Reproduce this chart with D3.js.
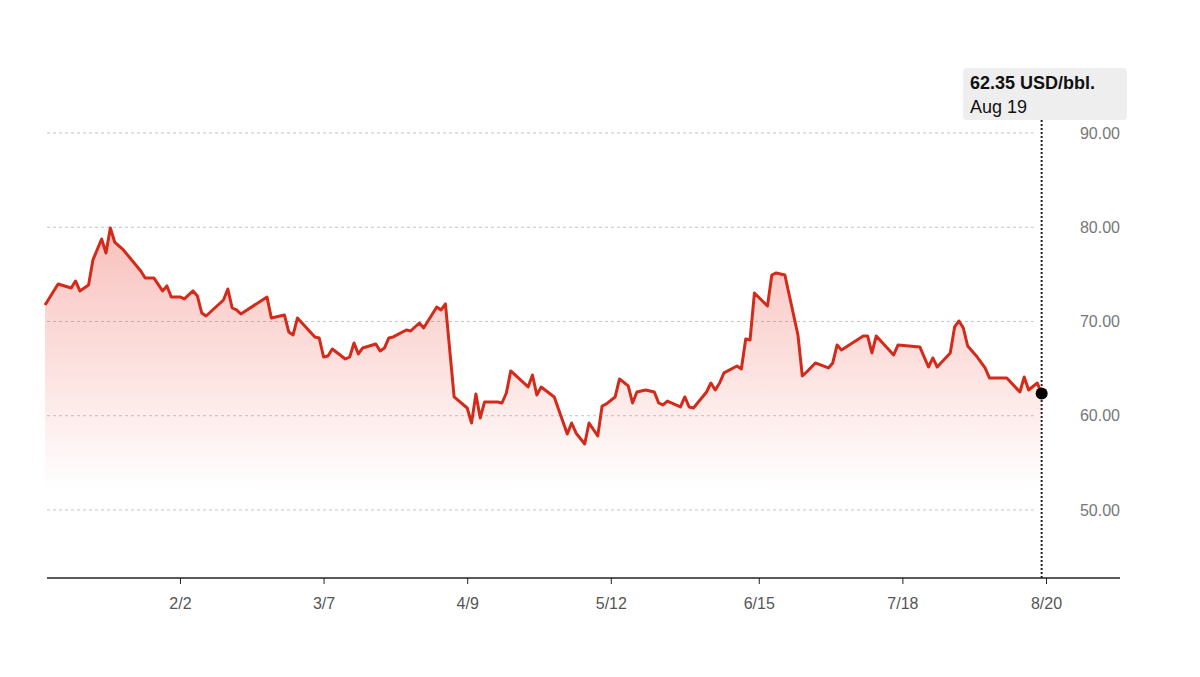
<!DOCTYPE html>
<html>
<head>
<meta charset="utf-8">
<script src="https://cdn.jsdelivr.net/npm/d3@7"></script>
<style>
  body { margin: 0; background: #fff; }
  svg { font-family: "Liberation Sans", Arial, sans-serif; }
</style>
</head>
<body>
<div class="chart"></div>
<script>
// day offsets from Jan 1 2025, and price in USD/bbl
var days = [1,4,7,8,9,11,12,14,15,16,17,19,23,24,26,28,29,30,32,33,35,36,37,38,42,43,44,45,46,52,53,56,57,58,59,63,64,65,66,67,70,71,72,73,74,77,78,79,80,81,84,85,87,88,91,92,93,95,98,99,100,101,102,105,106,107,108,112,113,114,115,118,121,122,123,125,126,128,129,130,132,133,135,136,137,139,141,142,143,144,147,148,149,150,153,154,155,156,157,160,161,162,163,164,167,168,169,171,174,175,176,178,181,182,183,184,189,190,191,192,196,197,202,204,205,206,209,210,211,212,213,215,217,218,222,225,226,227,229,230];
var prices = [71.75,73.98,73.55,74.30,73.24,73.87,76.53,78.75,77.27,79.92,78.43,77.59,75.36,74.62,74.62,73.24,73.77,72.60,72.60,72.39,73.24,72.71,70.90,70.58,72.28,73.45,71.43,71.22,70.80,72.60,70.37,70.69,68.89,68.57,70.37,68.36,68.25,66.23,66.34,67.08,66.02,66.23,67.72,66.55,67.19,67.61,66.87,67.19,68.25,68.36,69.10,68.99,69.84,69.31,71.54,71.22,71.86,61.99,60.82,59.23,62.31,59.76,61.46,61.46,61.35,62.41,64.75,63.05,64.32,62.20,63.05,61.99,58.06,59.23,58.17,57.00,59.23,57.85,61.03,61.25,61.99,63.90,63.16,61.35,62.52,62.73,62.52,61.35,61.14,61.56,60.93,61.99,60.93,60.82,62.52,63.47,62.73,63.47,64.54,65.28,64.96,68.14,68.04,73.02,71.64,74.93,75.15,74.93,68.57,64.22,64.64,65.60,65.07,65.60,67.51,66.98,68.46,68.46,66.66,68.46,66.45,67.51,67.30,65.17,66.13,65.17,66.66,69.42,70.05,69.31,67.40,66.34,65.07,64.01,64.01,62.52,64.11,62.73,63.47,62.35];
var yTicks = [50, 60, 70, 80, 90];
var xTickDates = ["2025-02-02","2025-03-07","2025-04-09","2025-05-12","2025-06-15","2025-07-18","2025-08-20"];
var unitLabel = "USD/bbl.";

var svgWidth = 1200, svgHeight = 677;
var plotLeft = 47, plotRight = 1120, plotBottom = 578;

var jan1 = new Date(2025, 0, 1);
var data = days.map(function(d, i) {
  return { date: d3.timeDay.offset(jan1, d), value: prices[i] };
});
var last = data[data.length - 1];

var svg = d3.select(".chart").append("svg")
  .attr("width", svgWidth).attr("height", svgHeight);

var x = d3.scaleTime()
  .domain([jan1, new Date(2025, 7, 20)])
  .range([40.7, 1046]);
var y = d3.scaleLinear().domain([42.78, 90]).range([plotBottom, 133]);

var grad = svg.append("defs").append("linearGradient")
  .attr("id", "fillGrad").attr("x1", 0).attr("x2", 0)
  .attr("gradientUnits", "userSpaceOnUse")
  .attr("y1", y(80)).attr("y2", plotBottom);
grad.append("stop").attr("offset", "0%").attr("stop-color", "#ee5a4f").attr("stop-opacity", 0.38);
grad.append("stop").attr("offset", "75%").attr("stop-color", "#ee5a4f").attr("stop-opacity", 0.0);

var lastX = x(last.date);

// gridlines
svg.append("g").selectAll("line").data(yTicks).enter().append("line")
  .attr("x1", plotLeft).attr("x2", lastX - 8)
  .attr("y1", function(d) { return y(d); }).attr("y2", function(d) { return y(d); })
  .attr("stroke", "#c4c4c4").attr("stroke-width", 1).attr("stroke-dasharray", "3,3");

svg.append("g").selectAll("text").data(yTicks).enter().append("text")
  .attr("x", plotRight).attr("y", function(d) { return y(d); })
  .attr("dy", "0.35em").attr("text-anchor", "end")
  .attr("fill", "#777").attr("font-size", 16)
  .text(function(d) { return d3.format(".2f")(d); });

// area + line
var area = d3.area()
  .x(function(d) { return x(d.date); })
  .y0(plotBottom)
  .y1(function(d) { return y(d.value); });
svg.append("path").datum(data).attr("d", area).attr("fill", "url(#fillGrad)");

var line = d3.line()
  .x(function(d) { return x(d.date); })
  .y(function(d) { return y(d.value); });
svg.append("path").datum(data).attr("d", line)
  .attr("fill", "none").attr("stroke", "#d42a1a").attr("stroke-width", 3)
  .attr("stroke-linejoin", "round");

// x axis
var parse = d3.timeParse("%Y-%m-%d");
var bottomAxis = d3.axisBottom(x)
  .tickValues(xTickDates.map(parse))
  .tickFormat(d3.timeFormat("%-m/%-d"))
  .tickSize(6).tickPadding(14);
var xAxis = svg.append("g")
  .attr("transform", "translate(0," + plotBottom + ")")
  .call(bottomAxis);
xAxis.select(".domain").remove();
xAxis.selectAll("line").attr("stroke", "#222");
xAxis.selectAll("text").attr("fill", "#555").attr("font-size", 16)
  .attr("font-family", "Liberation Sans, Arial, sans-serif");
svg.append("line").attr("x1", plotLeft).attr("x2", plotRight)
  .attr("y1", plotBottom).attr("y2", plotBottom)
  .attr("stroke", "#222").attr("stroke-width", 1.5);

// crosshair & tooltip
svg.append("line").attr("x1", lastX).attr("x2", lastX)
  .attr("y1", 120).attr("y2", plotBottom)
  .attr("stroke", "#222").attr("stroke-width", 2).attr("stroke-dasharray", "2,2");
svg.append("circle").attr("cx", lastX).attr("cy", y(last.value)).attr("r", 6).attr("fill", "#000");

svg.append("rect").attr("x", 963).attr("y", 68).attr("width", 164).attr("height", 52)
  .attr("rx", 4).attr("fill", "#eeeeee");
svg.append("text").attr("x", 970).attr("y", 89).attr("font-size", 18).attr("font-weight", "bold")
  .attr("fill", "#111").text(d3.format(".2f")(last.value) + " " + unitLabel);
svg.append("text").attr("x", 970).attr("y", 113).attr("font-size", 18)
  .attr("fill", "#111").text(d3.timeFormat("%b %-d")(last.date));
</script>
</body>
</html>
